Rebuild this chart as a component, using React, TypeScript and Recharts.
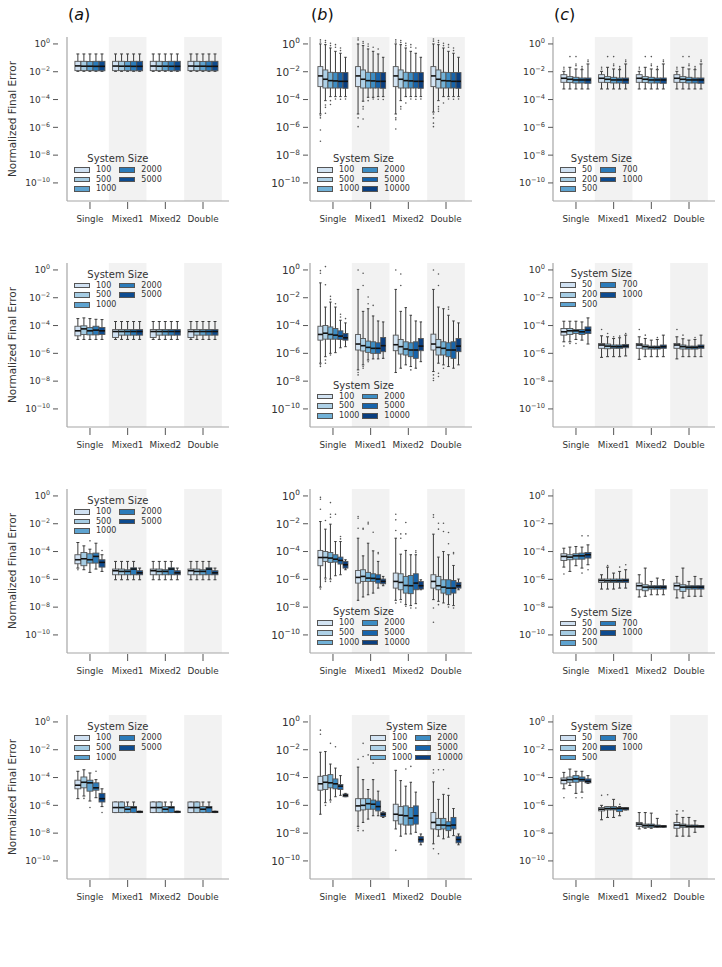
import React from 'react';
import { ComposedChart, XAxis, YAxis, Bar, Scatter, ReferenceArea, Legend } from 'recharts';

const FONT = "'DejaVu Sans', sans-serif";

// ---------- categories ----------
const GROUPS = ['Single', 'Mixed1', 'Mixed2', 'Double'];
const SIZES_A = ['100', '500', '1000', '2000', '5000'];
const SIZES_B = ['100', '500', '1000', '2000', '5000', '10000'];
const SIZES_C = ['50', '200', '500', '700', '1000'];
const Y_TICKS = [0, -2, -4, -6, -8, -10];

const BLUES_5 = ['#d0e1f2', '#a5cce3', '#5ea3d0', '#2b7bba', '#0d4b8f'];
const BLUES_6 = ['#d3e4f3', '#aed1e7', '#72b2d8', '#3d8dc4', '#1764ab', '#0a3f80'];

// ---------- box statistics, log10 of the normalized final error ----------
// [group][size] = [lower whisker, Q1, median, Q3, upper whisker]
const BOX_A1 = [
  [[-1.97, -1.92, -1.58, -1.25, -0.72], [-1.97, -1.92, -1.60, -1.25, -0.72], [-1.97, -1.92, -1.60, -1.26, -0.72], [-1.97, -1.93, -1.61, -1.25, -0.72], [-1.97, -1.93, -1.61, -1.25, -0.72]],
  [[-1.97, -1.92, -1.59, -1.25, -0.72], [-1.97, -1.92, -1.60, -1.25, -0.72], [-1.97, -1.92, -1.60, -1.26, -0.72], [-1.97, -1.93, -1.61, -1.25, -0.72], [-1.97, -1.93, -1.61, -1.25, -0.72]],
  [[-1.97, -1.92, -1.59, -1.25, -0.72], [-1.97, -1.92, -1.60, -1.25, -0.72], [-1.97, -1.92, -1.60, -1.26, -0.72], [-1.97, -1.93, -1.61, -1.25, -0.72], [-1.97, -1.93, -1.61, -1.25, -0.72]],
  [[-1.97, -1.92, -1.59, -1.25, -0.72], [-1.97, -1.92, -1.60, -1.25, -0.72], [-1.97, -1.92, -1.60, -1.26, -0.72], [-1.97, -1.93, -1.61, -1.25, -0.72], [-1.97, -1.93, -1.61, -1.25, -0.72]],
];
const FLIERS_A1: number[][] = [];

const BOX_B1 = [
  [[-5.04, -3.07, -2.30, -1.63, 0.0], [-4.08, -3.17, -2.54, -1.87, -0.05], [-3.79, -3.17, -2.64, -2.04, -0.29], [-3.79, -3.17, -2.66, -2.06, -0.53], [-3.79, -3.17, -2.69, -2.06, -0.67], [-3.79, -3.19, -2.69, -2.06, -0.96]],
  [[-5.04, -3.07, -2.30, -1.63, 0.0], [-4.12, -3.17, -2.54, -1.87, -0.12], [-3.84, -3.17, -2.64, -2.04, -0.36], [-3.84, -3.17, -2.66, -2.06, -0.53], [-3.79, -3.17, -2.69, -2.06, -0.72], [-3.79, -3.19, -2.69, -2.06, -0.96]],
  [[-5.04, -3.07, -2.30, -1.63, 0.0], [-4.08, -3.17, -2.54, -1.87, -0.05], [-3.79, -3.17, -2.64, -2.04, -0.29], [-3.79, -3.17, -2.66, -2.06, -0.53], [-3.79, -3.17, -2.69, -2.06, -0.67], [-3.79, -3.19, -2.69, -2.06, -0.96]],
  [[-4.90, -3.07, -2.30, -1.63, 0.0], [-4.08, -3.17, -2.54, -1.87, -0.05], [-3.79, -3.17, -2.64, -2.04, -0.29], [-3.79, -3.17, -2.66, -2.06, -0.53], [-3.79, -3.17, -2.69, -2.06, -0.67], [-3.79, -3.19, -2.69, -2.06, -0.96]],
];
// [group, size, value]
const FLIERS_B1 = [
  [0, 0, 0.29], [0, 0, 0.14], [0, 0, -5.16], [0, 0, -5.32], [0, 0, -6.19], [0, 0, -7.0],
  [0, 1, 0.24], [0, 1, 0.1], [0, 1, -4.39], [0, 1, -4.56], [0, 1, -4.99],
  [0, 2, 0.05], [0, 2, -0.12], [0, 2, -4.08], [0, 2, -4.36],
  [0, 3, -0.05], [0, 3, -0.24], [0, 3, -3.96],
  [0, 4, -0.29], [0, 4, -0.48], [0, 4, -3.98],
  [0, 5, -3.96],
  [1, 0, 0.43], [1, 0, 0.29], [1, 0, -5.32], [1, 0, -5.95],
  [1, 1, 0.17], [1, 1, 0.05], [1, 1, -4.51], [1, 1, -4.68], [1, 1, -5.4],
  [1, 2, 0.0], [1, 2, -0.17], [1, 2, -4.08],
  [1, 3, -0.24], [1, 3, -3.96],
  [1, 4, -0.36], [1, 4, -3.98],
  [1, 5, -4.0],
  [2, 0, 0.29], [2, 0, 0.14], [2, 0, -5.32], [2, 0, -5.45], [2, 0, -6.12],
  [2, 1, 0.24], [2, 1, 0.1], [2, 1, -4.51], [2, 1, -4.68],
  [2, 2, 0.05], [2, 2, -0.12], [2, 2, -4.25],
  [2, 3, -0.05], [2, 3, -0.24], [2, 3, -3.96],
  [2, 4, -0.29], [2, 4, -3.98],
  [2, 5, -3.96],
  [3, 0, 0.36], [3, 0, 0.2], [3, 0, -5.04], [3, 0, -5.32], [3, 0, -5.7], [3, 0, -5.95],
  [3, 1, 0.24], [3, 1, 0.1], [3, 1, -4.51], [3, 1, -4.68], [3, 1, -4.85],
  [3, 2, 0.05], [3, 2, -0.12], [3, 2, -4.25],
  [3, 3, -0.05], [3, 3, -0.24], [3, 3, -3.96],
  [3, 4, -0.29], [3, 4, -0.48], [3, 4, -3.98],
  [3, 5, -3.96],
];

const BOX_C1 = [
  [[-3.24, -2.76, -2.47, -2.21, -1.97], [-3.24, -2.78, -2.54, -2.35, -1.68], [-3.24, -2.81, -2.59, -2.40, -1.80], [-3.24, -2.81, -2.59, -2.45, -1.85], [-3.24, -2.83, -2.59, -2.45, -1.44]],
  [[-3.24, -2.76, -2.47, -2.21, -1.97], [-3.24, -2.78, -2.54, -2.35, -1.68], [-3.24, -2.81, -2.59, -2.40, -1.80], [-3.24, -2.81, -2.59, -2.45, -1.85], [-3.24, -2.83, -2.59, -2.45, -1.44]],
  [[-3.24, -2.76, -2.47, -2.21, -1.97], [-3.24, -2.78, -2.54, -2.35, -1.68], [-3.24, -2.81, -2.59, -2.40, -1.80], [-3.24, -2.81, -2.59, -2.45, -1.85], [-3.24, -2.83, -2.59, -2.45, -1.44]],
  [[-3.24, -2.76, -2.47, -2.21, -1.97], [-3.24, -2.78, -2.54, -2.35, -1.68], [-3.24, -2.81, -2.59, -2.40, -1.80], [-3.24, -2.81, -2.59, -2.45, -1.85], [-3.24, -2.83, -2.59, -2.45, -1.44]],
];
const FLIERS_C1 = [
  [0, 0, -1.68], [0, 0, -1.80], [0, 1, -0.91], [0, 2, -0.91], [0, 2, -1.44], [0, 2, -1.56], [0, 3, -1.63], [0, 3, -1.75], [0, 4, -1.15], [0, 4, -1.27],
  [1, 0, -1.68], [1, 0, -1.80], [1, 1, -0.91], [1, 2, -0.91], [1, 2, -1.44], [1, 2, -1.56], [1, 3, -1.63], [1, 3, -1.75], [1, 4, -1.15], [1, 4, -1.27],
  [2, 0, -1.68], [2, 0, -1.80], [2, 1, -0.91], [2, 2, -0.91], [2, 2, -1.44], [2, 2, -1.56], [2, 3, -1.63], [2, 3, -1.75], [2, 4, -1.15], [2, 4, -1.27],
  [3, 0, -1.68], [3, 0, -1.80], [3, 1, -0.91], [3, 2, -0.91], [3, 2, -1.44], [3, 2, -1.56], [3, 3, -1.63], [3, 3, -1.75], [3, 4, -1.15], [3, 4, -1.27],
];

const BOX_A2 = [
  [[-5.0, -4.74, -4.38, -4.05, -3.50], [-5.0, -4.64, -4.24, -4.02, -3.45], [-5.0, -4.67, -4.38, -4.14, -3.50], [-5.0, -4.67, -4.33, -4.05, -3.55], [-5.0, -4.64, -4.38, -4.14, -3.57]],
  [[-5.0, -4.86, -4.43, -4.29, -3.71], [-5.0, -4.69, -4.43, -4.29, -3.71], [-5.0, -4.69, -4.43, -4.29, -3.71], [-5.0, -4.69, -4.43, -4.29, -3.71], [-5.0, -4.69, -4.43, -4.29, -3.71]],
  [[-5.0, -4.86, -4.43, -4.29, -3.71], [-5.0, -4.69, -4.43, -4.29, -3.71], [-5.0, -4.69, -4.43, -4.29, -3.71], [-5.0, -4.69, -4.43, -4.29, -3.71], [-5.0, -4.69, -4.43, -4.29, -3.71]],
  [[-5.0, -4.86, -4.43, -4.29, -3.71], [-5.0, -4.69, -4.43, -4.29, -3.71], [-5.0, -4.69, -4.43, -4.29, -3.71], [-5.0, -4.69, -4.43, -4.29, -3.71], [-5.0, -4.69, -4.43, -4.29, -3.71]],
];
const FLIERS_A2: number[][] = [];

const BOX_B2 = [
  [[-6.71, -5.05, -4.64, -4.05, -0.93], [-6.24, -4.98, -4.55, -4.00, -2.67], [-6.00, -4.98, -4.64, -4.10, -2.31], [-5.95, -4.98, -4.69, -4.21, -2.67], [-5.60, -5.00, -4.76, -4.38, -3.62], [-5.52, -5.05, -4.88, -4.57, -3.81]],
  [[-7.19, -5.76, -5.33, -4.64, -1.40], [-6.83, -5.83, -5.45, -4.93, -2.98], [-6.48, -5.93, -5.57, -5.12, -2.79], [-6.40, -6.00, -5.64, -5.17, -3.31], [-6.40, -6.00, -5.64, -5.24, -3.67], [-6.36, -5.88, -5.45, -4.86, -3.74]],
  [[-7.38, -5.81, -5.38, -4.69, -1.40], [-7.07, -6.05, -5.52, -5.00, -2.98], [-6.83, -6.12, -5.69, -5.17, -2.71], [-6.95, -6.24, -5.76, -5.24, -3.26], [-7.07, -6.36, -5.76, -5.17, -3.67], [-6.60, -5.81, -5.48, -4.93, -3.74]],
  [[-7.31, -5.76, -5.33, -4.62, -1.40], [-6.71, -6.12, -5.57, -5.00, -2.67], [-6.83, -6.12, -5.64, -5.17, -2.79], [-6.95, -6.24, -5.76, -5.24, -3.26], [-7.07, -6.36, -5.76, -5.17, -3.67], [-6.83, -5.88, -5.48, -4.93, -3.81]],
];
const FLIERS_B2 = [
  [0, 0, -0.05], [0, 0, -0.24], [0, 0, -6.83], [0, 0, -6.95],
  [0, 1, 0.24], [0, 1, -1.07], [0, 1, -6.48], [0, 1, -6.71],
  [0, 2, -1.90], [0, 2, -2.12], [0, 2, -6.12],
  [0, 3, -2.43],
  [0, 4, -3.19], [0, 4, -3.38],
  [0, 5, -3.50],
  [1, 0, 0.0], [1, 0, -7.38], [1, 0, -7.55],
  [1, 1, -0.24], [1, 1, -1.12], [1, 1, -6.95], [1, 1, -7.07],
  [1, 2, -1.95], [1, 2, -2.43], [1, 2, -6.60],
  [1, 3, -2.55],
  [2, 0, 0.0], [2, 1, -0.29], [2, 1, -1.12], [2, 3, -7.19],
  [3, 0, 0.0], [3, 0, -7.55], [3, 0, -7.79], [3, 0, -7.95],
  [3, 1, -0.29], [3, 1, -1.12], [3, 1, -7.43], [3, 1, -7.67],
  [3, 2, -7.07],
  [3, 3, -2.67], [3, 3, -2.83],
];

const BOX_C2 = [
  [[-5.17, -4.69, -4.45, -4.21, -3.69], [-5.17, -4.64, -4.38, -4.21, -3.69], [-5.00, -4.57, -4.38, -4.29, -3.69], [-5.05, -4.64, -4.45, -4.29, -3.74], [-5.33, -4.57, -4.33, -4.10, -3.45]],
  [[-6.29, -5.64, -5.40, -5.29, -4.74], [-6.24, -5.67, -5.48, -5.33, -4.81], [-6.24, -5.64, -5.52, -5.40, -4.93], [-6.24, -5.64, -5.52, -5.40, -4.88], [-6.19, -5.60, -5.48, -5.36, -4.69]],
  [[-6.43, -5.64, -5.40, -5.29, -4.81], [-6.24, -5.69, -5.52, -5.40, -4.93], [-6.24, -5.69, -5.57, -5.48, -5.05], [-6.24, -5.69, -5.57, -5.48, -5.00], [-6.24, -5.64, -5.52, -5.40, -4.69]],
  [[-6.40, -5.64, -5.40, -5.29, -4.81], [-6.24, -5.69, -5.52, -5.40, -4.95], [-6.24, -5.69, -5.57, -5.48, -5.05], [-6.24, -5.69, -5.57, -5.48, -5.00], [-6.24, -5.64, -5.52, -5.40, -4.69]],
];
const FLIERS_C2 = [
  [0, 0, -5.48], [0, 1, -5.29], [0, 2, -5.29],
  [1, 0, -4.29], [1, 1, -4.57], [1, 2, -4.81], [1, 3, -4.76], [1, 4, -4.57],
  [2, 0, -4.29], [2, 1, -4.69], [2, 3, -4.86],
  [3, 0, -4.29], [3, 1, -4.69], [3, 3, -4.86],
];

const BOX_A3 = [
  [[-5.19, -4.88, -4.59, -4.23, -3.35], [-5.31, -5.02, -4.52, -4.07, -3.59], [-5.50, -4.83, -4.59, -4.16, -3.83], [-5.26, -4.83, -4.35, -4.11, -3.40], [-5.43, -5.12, -4.78, -4.59, -4.23]],
  [[-6.03, -5.67, -5.38, -5.26, -4.71], [-6.03, -5.67, -5.43, -5.26, -4.71], [-6.03, -5.67, -5.43, -5.31, -4.71], [-6.03, -5.67, -5.26, -5.17, -4.71], [-6.03, -5.67, -5.53, -5.38, -5.19]],
  [[-6.03, -5.67, -5.38, -5.26, -4.71], [-6.03, -5.67, -5.43, -5.26, -4.71], [-6.03, -5.67, -5.43, -5.31, -4.71], [-6.03, -5.67, -5.26, -5.17, -4.71], [-6.03, -5.67, -5.53, -5.38, -5.19]],
  [[-6.03, -5.67, -5.38, -5.26, -4.71], [-6.03, -5.67, -5.43, -5.26, -4.71], [-6.03, -5.67, -5.43, -5.31, -4.71], [-6.03, -5.67, -5.26, -5.17, -4.71], [-6.03, -5.67, -5.53, -5.38, -5.19]],
];
const FLIERS_A3 = [[0, 0, -5.31], [0, 2, -3.23], [0, 4, -3.92]];

const BOX_B3 = [
  [[-6.56, -5.02, -4.43, -3.92, -1.84], [-5.91, -4.71, -4.43, -4.00, -2.39], [-5.98, -4.78, -4.47, -4.07, -2.03], [-5.74, -4.76, -4.55, -4.23, -3.28], [-5.67, -4.90, -4.64, -4.40, -3.28], [-5.31, -5.19, -4.95, -4.71, -4.59]],
  [[-7.51, -6.27, -5.86, -5.36, -3.04], [-7.27, -6.15, -5.79, -5.31, -4.31], [-7.11, -6.15, -5.91, -5.50, -3.40], [-6.99, -6.15, -5.93, -5.60, -3.95], [-6.63, -6.27, -5.98, -5.67, -4.71], [-6.46, -6.32, -6.15, -5.98, -5.79]],
  [[-7.51, -6.63, -6.15, -5.55, -3.04], [-7.46, -6.75, -6.22, -5.60, -4.19], [-7.82, -6.99, -6.44, -5.79, -3.92], [-7.89, -7.03, -6.46, -5.72, -4.23], [-7.75, -6.75, -6.27, -5.60, -4.23], [-6.75, -6.70, -6.46, -6.15, -6.03]],
  [[-7.46, -6.63, -6.15, -5.67, -2.75], [-7.58, -6.75, -6.46, -5.79, -4.40], [-7.70, -6.99, -6.56, -6.03, -4.00], [-7.82, -7.11, -6.63, -6.03, -4.23], [-7.89, -6.99, -6.63, -6.08, -5.00], [-6.75, -6.63, -6.46, -6.22, -5.98]],
];
const FLIERS_B3 = [
  [0, 0, -0.10], [0, 0, -0.24], [0, 0, -0.96], [0, 0, -6.70],
  [0, 1, -1.77], [0, 1, -6.03], [0, 1, -6.15],
  [0, 2, -0.48], [0, 2, -1.32], [0, 2, -1.53], [0, 2, -6.15],
  [0, 3, -1.32],
  [0, 4, -2.92], [0, 4, -3.09],
  [1, 0, -1.48], [1, 0, -1.60], [1, 0, -2.32],
  [1, 1, -2.32], [1, 1, -2.39],
  [1, 2, -1.89], [1, 2, -2.01],
  [1, 3, -2.61],
  [1, 4, -4.07], [1, 4, -4.16],
  [2, 0, -1.32], [2, 0, -1.72], [2, 0, -2.49], [2, 0, -7.70],
  [2, 1, -2.73], [2, 1, -3.04], [2, 1, -7.63],
  [2, 2, -1.91], [2, 2, -2.73], [2, 2, -7.94],
  [2, 3, -8.06],
  [2, 4, -3.95], [2, 4, -4.07], [2, 4, -8.06],
  [3, 0, -1.36], [3, 0, -1.53], [3, 0, -8.06], [3, 0, -9.09],
  [3, 1, -1.96], [3, 1, -2.39], [3, 1, -7.82],
  [3, 2, -1.96], [3, 2, -2.56],
  [3, 3, -2.63], [3, 3, -3.44], [3, 3, -7.99],
  [3, 4, -4.07], [3, 4, -4.16], [3, 4, -8.06],
];

const BOX_C3 = [
  [[-5.12, -4.64, -4.35, -4.16, -3.76], [-5.43, -4.59, -4.40, -4.23, -3.68], [-5.02, -4.55, -4.31, -4.16, -3.64], [-5.19, -4.55, -4.31, -4.11, -3.68], [-4.95, -4.47, -4.23, -4.07, -3.52]],
  [[-6.70, -6.22, -6.08, -5.98, -5.67], [-6.70, -6.22, -6.10, -5.98, -5.12], [-6.70, -6.22, -6.10, -5.98, -5.55], [-6.63, -6.22, -6.10, -5.98, -5.43], [-6.63, -6.22, -6.08, -5.98, -5.31]],
  [[-7.27, -6.75, -6.46, -6.27, -5.67], [-7.22, -6.82, -6.56, -6.39, -5.19], [-7.11, -6.70, -6.56, -6.46, -6.15], [-7.11, -6.70, -6.56, -6.46, -5.91], [-7.11, -6.70, -6.56, -6.46, -6.03]],
  [[-7.34, -6.75, -6.46, -6.27, -5.79], [-7.34, -6.87, -6.56, -6.39, -5.19], [-7.22, -6.70, -6.56, -6.46, -6.15], [-7.22, -6.70, -6.56, -6.46, -5.79], [-7.22, -6.70, -6.56, -6.46, -5.96]],
];
const FLIERS_C3 = [
  [0, 0, -5.62], [0, 3, -2.87], [0, 3, -5.55], [0, 4, -2.87], [0, 4, -5.31],
  [1, 1, -5.00], [1, 3, -5.12], [1, 4, -4.95],
];

const BOX_A4 = [
  [[-5.52, -4.81, -4.55, -4.19, -3.55], [-5.33, -4.74, -4.34, -3.96, -3.44], [-5.69, -4.98, -4.38, -4.19, -3.67], [-5.45, -4.91, -4.74, -4.38, -4.15], [-6.09, -5.76, -5.52, -5.14, -4.81]],
  [[-6.52, -6.52, -6.16, -5.76, -5.76], [-6.52, -6.52, -6.16, -5.76, -5.76], [-6.52, -6.52, -6.28, -6.09, -5.76], [-6.52, -6.52, -6.16, -6.09, -5.76], [-6.52, -6.52, -6.47, -6.42, -6.42]],
  [[-6.52, -6.52, -6.16, -5.76, -5.76], [-6.52, -6.52, -6.16, -5.76, -5.76], [-6.52, -6.52, -6.28, -6.09, -5.76], [-6.52, -6.52, -6.16, -6.09, -5.76], [-6.52, -6.52, -6.47, -6.42, -6.42]],
  [[-6.52, -6.52, -6.16, -5.76, -5.76], [-6.52, -6.52, -6.16, -5.76, -5.76], [-6.52, -6.52, -6.28, -6.09, -5.76], [-6.52, -6.52, -6.16, -6.09, -5.76], [-6.52, -6.52, -6.47, -6.42, -6.42]],
];
const FLIERS_A4 = [[0, 1, -5.50], [0, 2, -6.16], [0, 3, -3.55], [0, 4, -6.52]];

const BOX_B4 = [
  [[-6.64, -4.91, -4.45, -3.91, -2.18], [-5.81, -4.86, -4.34, -3.86, -2.13], [-5.62, -4.74, -4.38, -3.79, -3.03], [-5.38, -4.81, -4.45, -4.10, -3.32], [-5.28, -4.86, -4.62, -4.50, -3.86], [-5.38, -5.38, -5.28, -5.19, -5.14]],
  [[-7.51, -6.40, -6.04, -5.52, -3.25], [-7.23, -6.33, -6.00, -5.52, -4.15], [-6.99, -6.28, -5.88, -5.52, -4.86], [-6.75, -6.28, -5.92, -5.62, -4.15], [-6.75, -6.40, -6.09, -5.69, -4.98], [-6.87, -6.80, -6.64, -6.52, -6.47]],
  [[-7.70, -7.11, -6.64, -5.92, -3.48], [-8.22, -7.35, -6.71, -6.09, -4.22], [-8.06, -7.42, -6.75, -6.04, -4.62], [-8.06, -7.42, -6.92, -6.16, -4.34], [-7.94, -7.35, -6.75, -6.04, -5.05], [-8.84, -8.65, -8.46, -8.25, -8.06]],
  [[-8.77, -7.70, -7.23, -6.52, -4.31], [-8.22, -7.75, -7.42, -6.94, -5.57], [-8.41, -7.70, -7.42, -6.94, -5.21], [-8.29, -7.82, -7.46, -7.18, -5.28], [-8.18, -7.70, -7.42, -6.87, -6.23], [-8.84, -8.70, -8.46, -8.22, -8.06]],
];
const FLIERS_B4 = [
  [0, 0, -0.59], [0, 0, -0.88],
  [0, 1, -6.00],
  [0, 2, -1.54], [0, 2, -5.76],
  [0, 3, -1.78],
  [1, 0, -2.68], [1, 0, -7.65], [1, 0, -7.82],
  [1, 1, -1.54], [1, 1, -2.49], [1, 1, -7.82],
  [1, 2, -2.37],
  [1, 3, -2.96],
  [2, 0, -9.24],
  [2, 2, -3.39],
  [2, 3, -3.20],
  [3, 0, -3.44], [3, 0, -3.67], [3, 0, -9.12],
  [3, 1, -3.44], [3, 1, -9.48],
  [3, 2, -3.44],
  [3, 3, -4.79],
];

const BOX_C4 = [
  [[-4.81, -4.45, -4.19, -4.03, -3.63], [-4.57, -4.34, -4.15, -3.96, -3.39], [-5.14, -4.34, -4.10, -3.86, -3.55], [-5.05, -4.27, -4.15, -3.96, -3.55], [-4.43, -4.38, -4.27, -4.10, -3.86]],
  [[-7.04, -6.40, -6.28, -6.16, -6.00], [-6.87, -6.33, -6.23, -6.09, -6.09], [-6.87, -6.33, -6.23, -6.09, -5.57], [-6.75, -6.45, -6.23, -6.16, -6.09], [-6.33, -6.33, -6.23, -6.16, -6.16]],
  [[-7.70, -7.51, -7.35, -7.23, -6.52], [-7.65, -7.58, -7.46, -7.35, -6.52], [-7.65, -7.58, -7.46, -7.35, -6.56], [-7.58, -7.58, -7.51, -7.42, -6.94], [-7.58, -7.58, -7.51, -7.46, -7.46]],
  [[-8.22, -7.65, -7.42, -7.23, -6.64], [-8.22, -7.58, -7.46, -7.35, -6.87], [-8.22, -7.58, -7.51, -7.42, -6.87], [-7.94, -7.58, -7.51, -7.42, -7.11], [-7.58, -7.58, -7.51, -7.46, -7.46]],
];
const FLIERS_C4 = [
  [0, 0, -5.45], [0, 2, -5.45], [0, 3, -5.45],
  [1, 0, -5.28], [1, 1, -5.24], [1, 3, -5.92],
  [3, 0, -6.40], [3, 1, -6.40],
];

// ---------- layout ----------
const PLOT_W = 162;
const PLOT_H = 164;
const X_DOMAIN: [number, number] = [-0.61, 3.69];
const Y_DOMAIN: [number, number] = [-11.3, 0.5];
const YW = 60;
const TM = 8;
const RM = 8;
const XH = 32;
const COL_LEFT = [67, 310, 553];
const ROW_TOP = [36.5, 262.5, 489, 715];

const SPINE = '#a6a6a6';
const TICK = '#555555';
const TEXT = '#333333';
const EDGE = '#555555';
const WHISK = '#3a3a3a';
const SHADE = '#f2f2f2';

type PanelCfg = {
  col: number;
  row: number;
  boxes: number[][][];
  fliers: number[][];
  sizes: string[];
  palette: string[];
  legendX: number;
  legendY: number;
  tickGap: number;
  tickFont: number;
};

const PANELS: PanelCfg[] = [
  { col: 0, row: 0, boxes: BOX_A1, fliers: FLIERS_A1, sizes: SIZES_A, palette: BLUES_5, legendX: 74, legendY: 159, tickGap: 9, tickFont: 9 },
  { col: 1, row: 0, boxes: BOX_B1, fliers: FLIERS_B1, sizes: SIZES_B, palette: BLUES_6, legendX: 317, legendY: 159, tickGap: 2, tickFont: 10.5 },
  { col: 2, row: 0, boxes: BOX_C1, fliers: FLIERS_C1, sizes: SIZES_C, palette: BLUES_5, legendX: 560, legendY: 159, tickGap: 0, tickFont: 9.5 },
  { col: 0, row: 1, boxes: BOX_A2, fliers: FLIERS_A2, sizes: SIZES_A, palette: BLUES_5, legendX: 74, legendY: 274.7, tickGap: 9, tickFont: 9 },
  { col: 1, row: 1, boxes: BOX_B2, fliers: FLIERS_B2, sizes: SIZES_B, palette: BLUES_6, legendX: 317, legendY: 385.7, tickGap: 2, tickFont: 10.5 },
  { col: 2, row: 1, boxes: BOX_C2, fliers: FLIERS_C2, sizes: SIZES_C, palette: BLUES_5, legendX: 560, legendY: 274.3, tickGap: 0, tickFont: 9.5 },
  { col: 0, row: 2, boxes: BOX_A3, fliers: FLIERS_A3, sizes: SIZES_A, palette: BLUES_5, legendX: 74, legendY: 501, tickGap: 9, tickFont: 9 },
  { col: 1, row: 2, boxes: BOX_B3, fliers: FLIERS_B3, sizes: SIZES_B, palette: BLUES_6, legendX: 317, legendY: 612.3, tickGap: 2, tickFont: 10.5 },
  { col: 2, row: 2, boxes: BOX_C3, fliers: FLIERS_C3, sizes: SIZES_C, palette: BLUES_5, legendX: 560, legendY: 612.7, tickGap: 0, tickFont: 9.5 },
  { col: 0, row: 3, boxes: BOX_A4, fliers: FLIERS_A4, sizes: SIZES_A, palette: BLUES_5, legendX: 74, legendY: 727.3, tickGap: 9, tickFont: 9 },
  { col: 1, row: 3, boxes: BOX_B4, fliers: FLIERS_B4, sizes: SIZES_B, palette: BLUES_6, legendX: 370, legendY: 727.3, tickGap: 2, tickFont: 10.5 },
  { col: 2, row: 3, boxes: BOX_C4, fliers: FLIERS_C4, sizes: SIZES_C, palette: BLUES_5, legendX: 560, legendY: 727.3, tickGap: 0, tickFont: 9.5 },
];

const expLabel = (v: number) => (v < 0 ? '\u2212' + String(-v) : String(v));

function WhiskerShape(props: any) {
  const { x, y, width, height } = props;
  if (x == null || y == null) return <g />;
  const top = Math.min(y, y + height);
  const bot = Math.max(y, y + height);
  const cx = x + width / 2;
  const cap = width / 4;
  return (
    <g stroke={WHISK} strokeWidth={1} fill="none">
      <line x1={cx} x2={cx} y1={top} y2={bot} />
      <line x1={cx - cap} x2={cx + cap} y1={top} y2={top} />
      <line x1={cx - cap} x2={cx + cap} y1={bot} y2={bot} />
    </g>
  );
}

function BoxShape(props: any) {
  const { x, y, width, height, payload } = props;
  if (x == null || y == null) return <g />;
  const top = Math.min(y, y + height);
  const h = Math.max(Math.abs(height), 0.8);
  return <rect x={x} y={top} width={width} height={h} fill={payload.color} stroke={EDGE} strokeWidth={0.9} />;
}

function LegendBlock({ sizes, palette }: { sizes: string[]; palette: string[] }) {
  const half = Math.ceil(sizes.length / 2);
  const cols = [sizes.slice(0, half), sizes.slice(half)];
  return (
    <div style={{ display: 'inline-block', fontFamily: FONT, color: TEXT }}>
      <div style={{ textAlign: 'center', fontSize: 10, lineHeight: '12px', whiteSpace: 'nowrap' }}>System Size</div>
      <div style={{ display: 'flex', columnGap: 3 }}>
        {cols.map((col, ci) => (
          <div key={ci}>
            {col.map((s, ri) => (
              <div key={s} style={{ display: 'flex', alignItems: 'center', height: 9.7 }}>
                <span
                  style={{
                    display: 'inline-block',
                    width: 16,
                    height: 5.6,
                    boxSizing: 'border-box',
                    background: palette[ci * half + ri],
                    border: `1px solid ${EDGE}`,
                  }}
                />
                <span style={{ marginLeft: 6, fontSize: 8, lineHeight: '9.7px', whiteSpace: 'nowrap' }}>{s}</span>
              </div>
            ))}
          </div>
        ))}
      </div>
    </div>
  );
}

function Panel({ cfg }: { cfg: PanelCfg }) {
  const n = cfg.sizes.length;
  const slot = 0.8 / n;
  const unitPx = PLOT_W / (X_DOMAIN[1] - X_DOMAIN[0]);
  const boxW = slot * 0.98 * unitPx;

  const rows: any[] = [];
  cfg.boxes.forEach((grp, g) =>
    grp.forEach((s, k) =>
      rows.push({
        x: g - 0.4 + slot * (k + 0.5),
        whisker: [s[0], s[4]],
        box: [s[1], s[3]],
        med: s[2],
        color: cfg.palette[k],
      })
    )
  );
  const pts = cfg.fliers.map(([g, k, v]) => ({ x: g - 0.4 + slot * (k + 0.5), y: v }));

  const plotLeft = COL_LEFT[cfg.col];
  const plotTop = ROW_TOP[cfg.row];
  const chartLeft = plotLeft - YW;
  const chartTop = plotTop - TM;
  const fs = cfg.tickFont;
  const gap = cfg.tickGap;

  const YTick = (p: any) => {
    const { x, y, payload } = p;
    return (
      <g>
        <line x1={x - gap - 5} x2={x - gap} y1={y} y2={y} stroke={TICK} strokeWidth={1} />
        <text x={x - gap - 8} y={y + fs * 0.36} textAnchor="end" fontSize={fs} fill={TEXT} fontFamily={FONT}>
          10
          <tspan dy={-fs * 0.42} fontSize={fs * 0.7}>
            {expLabel(payload.value)}
          </tspan>
        </text>
      </g>
    );
  };

  const XTick = (p: any) => {
    const { x, y, payload } = p;
    return (
      <g>
        <line x1={x} x2={x} y1={y + 1} y2={y + 8} stroke={TICK} strokeWidth={1} />
        <text x={x} y={y + 21} textAnchor="middle" fontSize={8.8} fill={TEXT} fontFamily={FONT}>
          {GROUPS[payload.value]}
        </text>
      </g>
    );
  };

  const MedianShape = (p: any) => {
    const { cx, cy } = p;
    if (cx == null || cy == null || isNaN(cy)) return <g />;
    return <line x1={cx - boxW / 2} x2={cx + boxW / 2} y1={cy} y2={cy} stroke="#111" strokeWidth={1.6} />;
  };

  const FlierShape = (p: any) => {
    const { cx, cy } = p;
    if (cx == null || cy == null || isNaN(cy)) return <g />;
    return <circle cx={cx} cy={cy} r={0.8} fill="#555" />;
  };

  return (
    <div style={{ position: 'absolute', left: chartLeft, top: chartTop }}>
      <ComposedChart
        width={YW + PLOT_W + RM}
        height={TM + PLOT_H + XH}
        data={rows}
        margin={{ top: TM, right: RM, bottom: 0, left: 0 }}
      >
        <XAxis
          xAxisId="main"
          type="number"
          dataKey="x"
          domain={X_DOMAIN}
          ticks={[0, 1, 2, 3]}
          interval={0}
          allowDataOverflow
          height={XH}
          tickLine={false}
          tickSize={0}
          tickMargin={0}
          tick={XTick}
          axisLine={{ stroke: SPINE, strokeWidth: 1.2 }}
        />
        <XAxis xAxisId="whisk" orientation="top" height={0} type="number" dataKey="x" domain={X_DOMAIN} allowDataOverflow hide />
        <XAxis xAxisId="box" orientation="top" height={0} type="number" dataKey="x" domain={X_DOMAIN} allowDataOverflow hide />
        <YAxis
          type="number"
          domain={Y_DOMAIN}
          ticks={Y_TICKS}
          interval={0}
          allowDataOverflow
          width={YW}
          tickLine={false}
          tickSize={0}
          tickMargin={0}
          tick={YTick}
          axisLine={{ stroke: SPINE, strokeWidth: 1.2 }}
        />
        <ReferenceArea xAxisId="main" x1={0.5} x2={1.5} fill={SHADE} fillOpacity={1} stroke="none" ifOverflow="visible" />
        <ReferenceArea xAxisId="main" x1={2.5} x2={3.5} fill={SHADE} fillOpacity={1} stroke="none" ifOverflow="visible" />
        <Bar xAxisId="whisk" dataKey="whisker" barSize={boxW} shape={WhiskerShape} isAnimationActive={false} />
        <Bar xAxisId="box" dataKey="box" barSize={boxW} shape={BoxShape} isAnimationActive={false} />
        <Scatter xAxisId="main" dataKey="med" shape={MedianShape} isAnimationActive={false} />
        <Scatter xAxisId="main" data={pts} dataKey="y" shape={FlierShape} isAnimationActive={false} />
        <Legend
          layout="horizontal"
          verticalAlign="middle"
          align="center"
          content={() => <LegendBlock sizes={cfg.sizes} palette={cfg.palette} />}
          wrapperStyle={{ left: cfg.legendX - chartLeft, top: cfg.legendY - 6 - chartTop, width: 'auto', lineHeight: 'normal' }}
        />
      </ComposedChart>
    </div>
  );
}

const TITLES = ['a', 'b', 'c'];

export default function App() {
  return (
    <div style={{ position: 'absolute', left: 0, top: 0, width: 722, height: 967, background: '#fff', fontFamily: FONT }}>
      {TITLES.map((t, i) => (
        <div
          key={t}
          style={{ position: 'absolute', left: COL_LEFT[i] + 1, top: 7, fontSize: 16, lineHeight: '16px', color: '#111', whiteSpace: 'nowrap' }}
        >
          (<i>{t}</i>)
        </div>
      ))}
      {ROW_TOP.map((t, i) => (
        <div
          key={i}
          style={{
            position: 'absolute',
            left: 12,
            top: t + PLOT_H / 2,
            transform: 'translate(-50%, -50%) rotate(-90deg)',
            fontSize: 10.5,
            lineHeight: '12px',
            color: TEXT,
            whiteSpace: 'nowrap',
          }}
        >
          Normalized Final Error
        </div>
      ))}
      {PANELS.map((cfg, i) => (
        <Panel key={i} cfg={cfg} />
      ))}
    </div>
  );
}
